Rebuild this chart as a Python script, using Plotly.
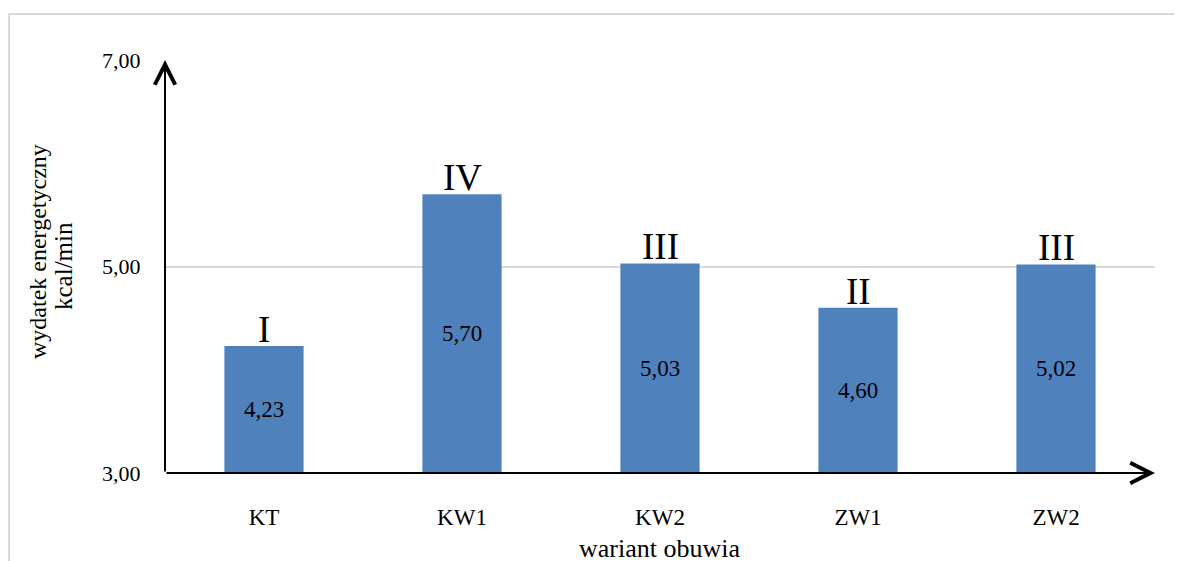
import plotly.graph_objects as go

categories = ["KT", "KW1", "KW2", "ZW1", "ZW2"]
values = [4.23, 5.70, 5.03, 4.60, 5.02]
groups = ["I", "IV", "III", "II", "III"]
y_ticks = [3, 5, 7]

FONT = "Liberation Serif"
BAR = "#4f81bd"

# figure geometry (page body has an 8px margin)
W, H = 1174, 553
ML, MR, MT, MB = 157, 27, 52, 88
PW, PH = W - ML - MR, H - MT - MB


def px(x):  # figure pixel -> paper x
    return (x - ML) / PW


def py(y):  # figure pixel -> paper y
    return (H - MB - y) / PH


labels = [f"{v:.2f}".replace(".", ",") for v in values]

fig = go.Figure()
fig.add_trace(go.Bar(
    x=categories, y=values, width=0.4,
    marker=dict(color=BAR, line=dict(width=0)),
    hoverinfo="skip",
))

for c, v, g, lab in zip(categories, values, groups, labels):
    fig.add_annotation(x=c, y=v, text=g, showarrow=False, yanchor="bottom",
                       yshift=-6, font=dict(family=FONT, size=37, color="black"))
    fig.add_annotation(x=c, y=(y_ticks[0] + v) / 2, text=lab, showarrow=False,
                       yanchor="middle", font=dict(family=FONT, size=23, color="black"))

# axis arrows
fig.add_annotation(xref="x domain", yref="y domain", axref="x domain", ayref="y domain",
                   x=0, y=1, ax=0, ay=0, text="", showarrow=True,
                   arrowhead=5, arrowwidth=2, arrowsize=2.0, arrowcolor="black", standoff=0)
fig.add_annotation(xref="x domain", yref="y domain", axref="x domain", ayref="y domain",
                   x=1, y=0, ax=0, ay=0, text="", showarrow=True,
                   arrowhead=5, arrowwidth=2, arrowsize=2.0, arrowcolor="black", standoff=0)

# axis titles
fig.add_annotation(xref="paper", yref="paper", x=px(30), y=py(244), text="wydatek energetyczny",
                   textangle=-90, showarrow=False, xanchor="center", yanchor="middle",
                   font=dict(family=FONT, size=24, color="black"))
fig.add_annotation(xref="paper", yref="paper", x=px(55), y=py(258), text="kcal/min",
                   textangle=-90, showarrow=False, xanchor="center", yanchor="middle",
                   font=dict(family=FONT, size=25, color="black"))
fig.add_annotation(xref="paper", yref="paper", x=px(651), y=py(540), text="wariant obuwia",
                   showarrow=False, xanchor="center", yanchor="middle",
                   font=dict(family=FONT, size=26, color="black"))

# outer border
fig.add_shape(type="rect", xref="paper", yref="paper",
              x0=px(1), x1=1.2, y0=-0.4, y1=py(6),
              line=dict(color="#d9d9d9", width=2), layer="below")

fig.update_layout(
    width=W, height=H,
    margin=dict(l=ML, r=MR, t=MT, b=MB),
    paper_bgcolor="white", plot_bgcolor="white",
    separators=", ",
    showlegend=False,
    font=dict(family=FONT, size=22, color="black"),
    xaxis=dict(showgrid=False, showline=False, zeroline=False, automargin=False,
               ticks="outside", ticklen=23, tickcolor="rgba(0,0,0,0)",
               tickfont=dict(family=FONT, size=23, color="black")),
    yaxis=dict(range=[3, 7], tickvals=y_ticks, tickformat=".2f", automargin=False,
               showgrid=True, gridcolor="#d9d9d9", gridwidth=1.5,
               zeroline=False, showline=False,
               ticks="outside", ticklen=19, tickcolor="rgba(0,0,0,0)",
               tickfont=dict(family=FONT, size=22, color="black")),
)

fig.write_html("out.html")
